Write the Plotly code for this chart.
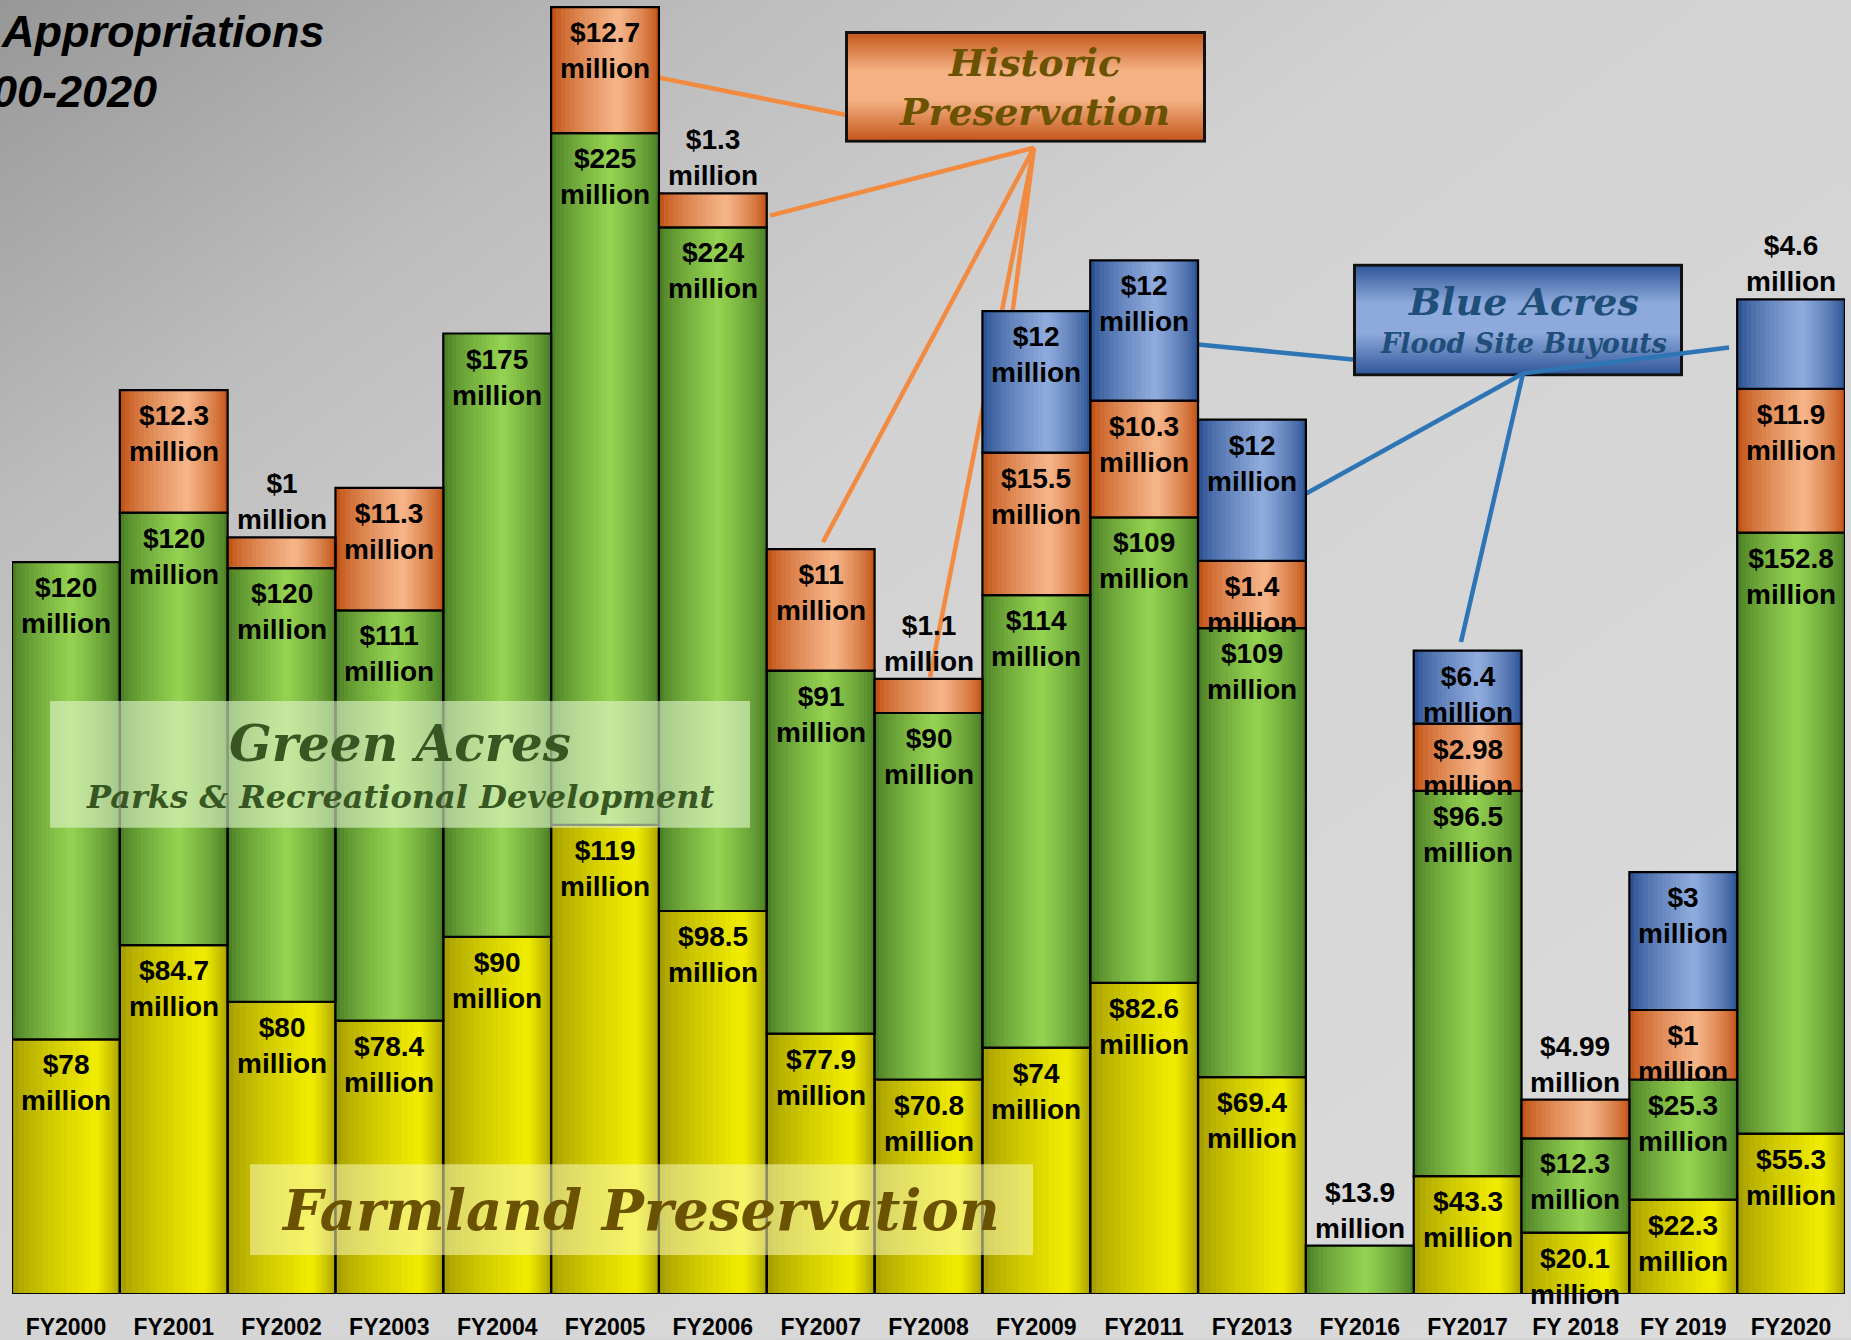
import base64
import plotly.graph_objects as go

# ---------------- data ----------------
categories = ["FY2000", "FY2001", "FY2002", "FY2003", "FY2004", "FY2005", "FY2006",
              "FY2007", "FY2008", "FY2009", "FY2011", "FY2013", "FY2016", "FY2017",
              "FY 2018", "FY 2019", "FY2020"]

# drawn segment heights as they appear in the reference (chart units, not to scale with $)
farmland_height = [216, 296, 248, 232, 303, 398, 325, 221, 182, 209, 264, 184, 0, 100, 52, 80, 136]
green_height = [405, 367, 368, 348, 512, 587, 580, 308, 311, 384, 395, 381, 41, 327, 80, 102, 510]
historic_height = [0, 104, 26, 104, 0, 107, 29, 103, 29, 121, 99, 57, 0, 57, 33, 59, 122]
blue_height = [0, 0, 0, 0, 0, 0, 0, 0, 0, 120, 119, 120, 0, 62, 0, 117, 76]

# appropriation values ($ million) shown as labels
farmland_label = ["$78", "$84.7", "$80", "$78.4", "$90", "$119", "$98.5", "$77.9", "$70.8",
                  "$74", "$82.6", "$69.4", "", "$43.3", "$20.1", "$22.3", "$55.3"]
green_label = ["$120", "$120", "$120", "$111", "$175", "$225", "$224", "$91", "$90",
               "$114", "$109", "$109", "$13.9", "$96.5", "$12.3", "$25.3", "$152.8"]
historic_label = ["", "$12.3", "$1", "$11.3", "", "$12.7", "$1.3", "$11", "$1.1",
                  "$15.5", "$10.3", "$1.4", "", "$2.98", "$4.99", "$1", "$11.9"]
blue_label = ["", "", "", "", "", "", "", "", "", "$12", "$12", "$12", "", "$6.4", "", "$3", "$4.6"]

# labels drawn above their (thin) segment instead of inside
outside_labels = {("green", 12), ("historic", 2), ("historic", 6), ("historic", 8),
                  ("historic", 14), ("blue", 16)}

# ---------------- page geometry ----------------
FW, FH = 1851, 1340
L, R, T, B = 12, 6, 0, 44
PW, PH = FW - L - R, FH - T - B


def px(X):
    return (X - L) / PW


def py(Y):
    return (FH - B - Y) / PH


def hex2rgb(h):
    h = h.lstrip("#")
    return tuple(int(h[i:i + 2], 16) for i in (0, 2, 4))


def mix(c1, c2, t):
    a, b = hex2rgb(c1), hex2rgb(c2)
    return "rgb(%d,%d,%d)" % tuple(round(a[i] + (b[i] - a[i]) * t) for i in range(3))


fig = go.Figure()

n_cat = len(categories)
cum = [0] * n_cat
series = [
    ("farmland", farmland_height, farmland_label, "#a89f00", "#efeb00", 0.78),
    ("green", green_height, green_label, "#4c8026", "#93d150", 0.55),
    ("historic", historic_height, historic_label, "#c25417", "#f5b386", 0.62),
    ("blue", blue_height, blue_label, "#2d5394", "#8eaadc", 0.6),
]

W = 1.0
NL = 14
tops = {}
for name, h, lab, dark, light, peak in series:
    base = list(cum)
    yv = [v if v > 0 else None for v in h]
    for k in range(NL):
        s = 1 - k / NL
        w = W * s
        off = -W / 2 + peak * (W - w)
        t = (k / (NL - 1)) ** 0.75
        fig.add_trace(go.Bar(
            x=categories, y=yv, base=base, width=w, offset=off,
            marker=dict(color=mix(dark, light, t), line=dict(width=0)),
            hoverinfo="skip", showlegend=False))
    fig.add_trace(go.Bar(
        x=categories, y=yv, base=base, width=W, offset=-W / 2,
        marker=dict(color="rgba(0,0,0,0)", line=dict(width=2.2, color="#000000")),
        hoverinfo="skip", showlegend=False, name=name))
    tops[name] = [base[i] + h[i] for i in range(n_cat)]
    cum = [cum[i] + h[i] for i in range(n_cat)]

annotations = []
label_font = dict(family="Liberation Sans, Arial, sans-serif", size=28, color="#000000", weight="bold")
for name, h, lab, dark, light, peak in series:
    for i in range(n_cat):
        if not lab[i]:
            continue
        if (name, i) in outside_labels:
            annotations.append(dict(x=categories[i], y=tops[name][i], xref="x", yref="y",
                                    text=lab[i] + "<br>million", showarrow=False,
                                    yanchor="bottom", yshift=0, font=label_font))
        else:
            annotations.append(dict(x=categories[i], y=tops[name][i], xref="x", yref="y",
                                    text=lab[i] + "<br>million", showarrow=False,
                                    yanchor="top", yshift=-8, font=label_font))

serif = "DejaVu Serif, Georgia, serif"
sans = "Liberation Sans, Arial, sans-serif"
# titles / callout texts
annotations += [
    dict(xref="paper", yref="paper", x=px(327), y=py(32), xanchor="right", yanchor="middle",
         text="Appropriations", showarrow=False,
         font=dict(family=sans, size=45, color="#000", weight="bold", style="italic")),
    dict(xref="paper", yref="paper", x=px(159), y=py(92), xanchor="right", yanchor="middle",
         text="00-2020", showarrow=False,
         font=dict(family=sans, size=45, color="#000", weight="bold", style="italic")),
    dict(xref="paper", yref="paper", x=px(1034), y=py(87), xanchor="center", yanchor="middle",
         text="Historic<br>Preservation", showarrow=False,
         font=dict(family=serif, size=38, color="#6a5200", weight="bold", style="italic")),
    dict(xref="paper", yref="paper", x=px(1523), y=py(302), xanchor="center", yanchor="middle",
         text="Blue Acres", showarrow=False,
         font=dict(family=serif, size=38, color="#1f4e79", weight="bold", style="italic")),
    dict(xref="paper", yref="paper", x=px(1523), y=py(344), xanchor="center", yanchor="middle",
         text="Flood Site Buyouts", showarrow=False,
         font=dict(family=serif, size=27, color="#1f4e79", weight="bold", style="italic")),
    dict(xref="paper", yref="paper", x=px(400), y=py(745), xanchor="center", yanchor="middle",
         text="Green Acres", showarrow=False,
         font=dict(family=serif, size=50, color="#385622", weight="bold", style="italic")),
    dict(xref="paper", yref="paper", x=px(400), y=py(798), xanchor="center", yanchor="middle",
         text="Parks &amp; Recreational Development", showarrow=False,
         font=dict(family=serif, size=32, color="#385622", weight="bold", style="italic")),
    dict(xref="paper", yref="paper", x=px(640), y=py(1212), xanchor="center", yanchor="middle",
         text="Farmland Preservation", showarrow=False,
         font=dict(family=serif, size=56, color="#6a5200", weight="bold", style="italic")),
]

# connector lines (drawn under the bars)
orange = "#f28a3f"
blue = "#2e75b6"
hub_o = (1034, 148)
hub_b = (1523, 374)
line_defs = [
    ((655, 77), (845, 115), orange),
    (hub_o, (770, 216), orange),
    (hub_o, (823, 543), orange),
    (hub_o, (930, 678), orange),
    (hub_o, (992, 470), orange),
    ((1198, 345), (1353, 360), blue),
    (hub_b, (1303, 496), blue),
    (hub_b, (1461, 643), blue),
    (hub_b, (1729, 348), blue),
]
shapes = []
for (x0, y0), (x1, y1), c in line_defs:
    shapes.append(dict(type="line", xref="paper", yref="paper", x0=px(x0), y0=py(y0),
                       x1=px(x1), y1=py(y1), line=dict(color=c, width=4.5), layer="below"))

# translucent label panels (above bars)
shapes.append(dict(type="rect", xref="paper", yref="paper", x0=px(50), x1=px(750),
                   y0=py(829), y1=py(702), fillcolor="rgba(224,246,204,0.62)",
                   line=dict(width=0), layer="above"))
shapes.append(dict(type="rect", xref="paper", yref="paper", x0=px(250), x1=px(1033),
                   y0=py(1257), y1=py(1166), fillcolor="rgba(252,250,185,0.55)",
                   line=dict(width=0), layer="above"))


def svg_uri(svg):
    return "data:image/svg+xml;base64," + base64.b64encode(svg.encode("utf-8")).decode("ascii")


bg_svg = (
    '<svg xmlns="http://www.w3.org/2000/svg" width="1851" height="1340" viewBox="0 0 1851 1340" '
    'preserveAspectRatio="none"><defs><linearGradient id="g" x1="0" y1="0" x2="1" y2="1">'
    '<stop offset="0" stop-color="#979797"/><stop offset="0.2" stop-color="#bdbdbd"/>'
    '<stop offset="0.4" stop-color="#d2d2d2"/><stop offset="1" stop-color="#dcdcdc"/>'
    '</linearGradient></defs><rect width="1851" height="1340" fill="url(#g)"/></svg>'
)


def box_svg(w, h, edge, mid):
    return (
        f'<svg xmlns="http://www.w3.org/2000/svg" width="{w}" height="{h}" viewBox="0 0 {w} {h}" '
        f'preserveAspectRatio="none"><defs><linearGradient id="g" x1="0" y1="0" x2="0" y2="1">'
        f'<stop offset="0" stop-color="{edge}"/><stop offset="0.35" stop-color="{mid}"/>'
        f'<stop offset="0.62" stop-color="{mid}"/><stop offset="1" stop-color="{edge}"/>'
        f'</linearGradient></defs><rect x="1.5" y="1.5" width="{w - 3}" height="{h - 3}" '
        f'fill="url(#g)" stroke="#111" stroke-width="3"/></svg>'
    )


images = [
    dict(source=svg_uri(bg_svg), xref="paper", yref="paper", x=px(0), y=py(0),
         sizex=FW / PW, sizey=FH / PH, xanchor="left", yanchor="top", sizing="stretch", layer="below"),
    dict(source=svg_uri(box_svg(361, 112, "#c4561a", "#f4b183")), xref="paper", yref="paper",
         x=px(845), y=py(31), sizex=361 / PW, sizey=112 / PH, xanchor="left", yanchor="top",
         sizing="stretch", layer="below"),
    dict(source=svg_uri(box_svg(330, 113, "#2f5597", "#8eaadc")), xref="paper", yref="paper",
         x=px(1353), y=py(264), sizex=330 / PW, sizey=113 / PH, xanchor="left", yanchor="top",
         sizing="stretch", layer="below"),
]

fig.update_layout(
    width=FW, height=FH,
    margin=dict(l=L, r=R, t=T, b=B, pad=0),
    barmode="overlay",
    paper_bgcolor="#d4d4d4",
    plot_bgcolor="rgba(0,0,0,0)",
    showlegend=False,
    xaxis=dict(type="category", categoryorder="array", categoryarray=categories,
               range=[-0.5, n_cat - 0.5], showgrid=False, showline=False, zeroline=False,
               ticks="", ticklabelstandoff=17,
               tickfont=dict(family=sans, size=23, color="#000", weight="bold")),
    yaxis=dict(range=[0, 1098], visible=False, showgrid=False, zeroline=False),
    annotations=annotations,
    shapes=shapes,
    images=images,
)

fig.write_html("out.html", config={"displayModeBar": False},
               post_script="document.body.style.margin='0';document.body.style.overflow='hidden';")
